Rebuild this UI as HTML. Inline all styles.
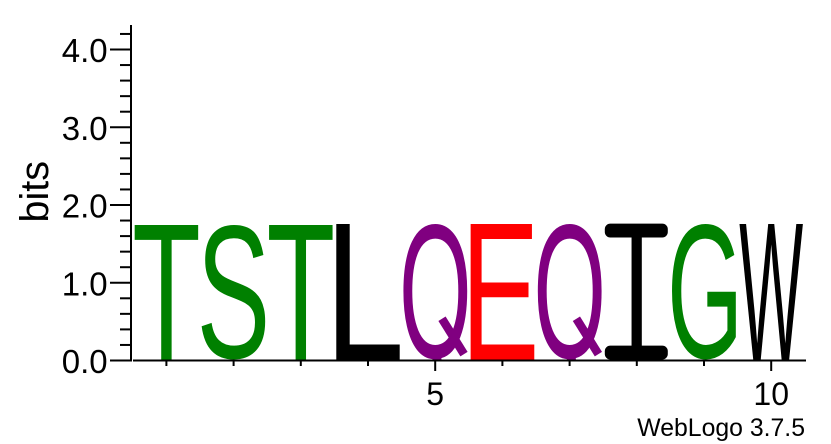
<!DOCTYPE html>
<html lang="en">
<head>
<meta charset="utf-8">
<title>WebLogo sequence logo</title>
<style>
html,body{margin:0;padding:0;background:#fff;width:831px;height:444px;overflow:hidden}
svg{display:block;font-family:"Liberation Sans",Arial,sans-serif}
</style>
</head>
<body>
<svg id="chart" width="831" height="444" viewBox="0 0 831 444" xmlns="http://www.w3.org/2000/svg">
  <defs>
    <clipPath id="plot-clip"><rect x="0" y="0" width="831" height="359.6"/></clipPath>
  </defs>
  <rect x="0" y="0" width="831" height="444" fill="#fff"/>
  <g id="stacks" clip-path="url(#plot-clip)"></g>
  <g id="yaxis"></g>
  <g id="xaxis"></g>
  <text transform="translate(48,222.5) rotate(-90)" font-size="39.5" fill="#000">bits</text>
  <text x="805" y="436" text-anchor="end" font-size="24.8" fill="#000">WebLogo 3.7.5</text>
</svg>
<script>
const letters = ['T','S','T','L','Q','E','Q','I','G','W'];
const bits = [1.76,1.76,1.76,1.76,1.76,1.76,1.76,1.76,1.76,1.76];
const letterColors = ['#008000','#008000','#008000','#000000','#800080','#ff0000','#800080','#000000','#008000','#000000'];
const yMajorTicks = ['0.0','1.0','2.0','3.0','4.0'];
const yMinorTicks = [0.2,0.4,0.6,0.8,1.2,1.4,1.6,1.8,2.2,2.4,2.6,2.8,3.2,3.4,3.6,3.8,4.2];
const xTickLabels = {5:'5',10:'10'};

const NS = 'http://www.w3.org/2000/svg';
const y = v => 360.5 - v * 77.75;
const x = i => 166.4 + (i - 1) * 67.2;
const glyphWidth = 64;
const baseY = y(0) - 1;

function line(parent, x1, y1, x2, y2, w, color) {
  const el = document.createElementNS(NS, 'line');
  el.setAttribute('x1', x1);
  el.setAttribute('y1', y1);
  el.setAttribute('x2', x2);
  el.setAttribute('y2', y2);
  el.setAttribute('stroke', color || '#000');
  el.setAttribute('stroke-width', w);
  parent.appendChild(el);
  return el;
}
function label(parent, px, py, anchor, size, str) {
  const el = document.createElementNS(NS, 'text');
  el.setAttribute('x', px);
  el.setAttribute('y', py);
  el.setAttribute('text-anchor', anchor);
  el.setAttribute('font-size', size);
  el.setAttribute('fill', '#000');
  el.textContent = str;
  parent.appendChild(el);
  return el;
}

const yAxis = document.getElementById('yaxis');
const xAxis = document.getElementById('xaxis');
const stacks = document.getElementById('stacks');

const yLine = line(yAxis, 131, 25, 131, 361.5, 2);



yMajorTicks.forEach(t => {
  const v = parseFloat(t);
  const tick = line(yAxis, 110, y(v), 131, y(v), 2);
  
  
  const lab = label(yAxis, 107.6, y(v) + 12.5, 'end', 33, t);
  
  
});
yMinorTicks.forEach(v => {
  const tick = line(yAxis, 120, y(v), 131, y(v), 2);
  
  
});

const xLine = line(xAxis, 133, 360.5, 806, 360.5, 2);



letters.forEach((_, idx) => {
  const pos = idx + 1;
  const major = xTickLabels[pos] !== undefined;
  const tick = line(xAxis, x(pos), 360.5, x(pos), major ? 371 : 366, 2);
  
  
  if (major) {
    const lab = label(xAxis, x(pos), 405, 'middle', 32, xTickLabels[pos]);
    
    
  }
});

const ctx = document.createElement('canvas').getContext('2d');
const size = 200;
ctx.font = size + 'px "Liberation Sans"';

function fitGlyph(ch, color, left, width, top, bottom, metricChar) {
  const m = ctx.measureText(ch);
  const mv = ctx.measureText(metricChar || ch);
  const sx = width / (m.actualBoundingBoxLeft + m.actualBoundingBoxRight);
  const sy = (bottom - top) / (mv.actualBoundingBoxAscent + mv.actualBoundingBoxDescent);
  const tx = left + m.actualBoundingBoxLeft * sx;
  const ty = bottom - mv.actualBoundingBoxDescent * sy;
  const el = document.createElementNS(NS, 'text');
  el.setAttribute('transform', 'translate(' + tx + ',' + ty + ') scale(' + sx + ',' + sy + ')');
  el.setAttribute('font-size', size);
  el.setAttribute('fill', color);
  el.textContent = ch;
  stacks.appendChild(el);
  return el;
}

letters.forEach((ch, idx) => {
  const center = x(idx + 1);
  const top = y(bits[idx]);
  const h = baseY - top;
  const left = center - glyphWidth / 2;
  const color = letterColors[idx];
  if (ch === 'I') {
    const stem = fitGlyph(ch, color, center - 5.5, 11, top, baseY);
    
    
    [top, baseY - h * 0.102].forEach(sy => {
      const serif = document.createElementNS(NS, 'rect');
      
      
      serif.setAttribute('x', left);
      serif.setAttribute('y', sy);
      serif.setAttribute('width', glyphWidth - 1);
      serif.setAttribute('height', h * 0.102);
      serif.setAttribute('rx', 5.5);
      serif.setAttribute('fill', color);
      stacks.appendChild(serif);
    });
  } else if (ch === 'Q') {
    const bowl = fitGlyph(ch, color, left, glyphWidth, top, baseY, 'O');
    
    
    const tail = line(stacks, center + 6.8, baseY - h * 0.30, center + 28.8, baseY - h * 0.04, 8.5, color);
    
    
  } else {
    const el = fitGlyph(ch, color, left, glyphWidth, top, baseY);
    
    
  }
});
</script>
</body>
</html>
